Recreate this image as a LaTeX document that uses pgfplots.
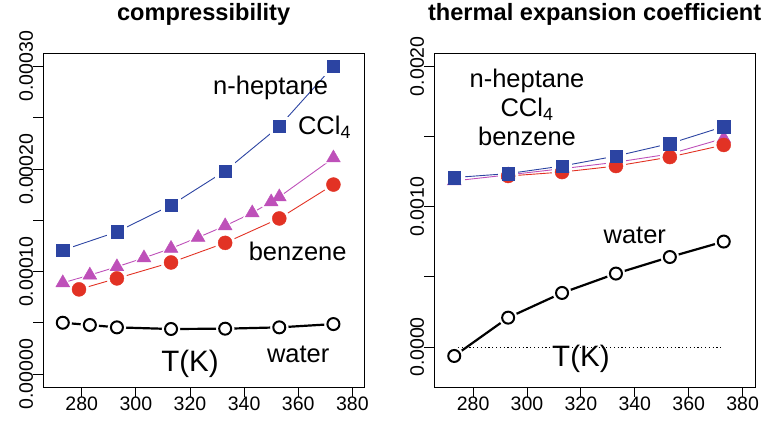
\documentclass[border=0pt]{standalone}
\usepackage{fontspec}
\setmainfont{Liberation Sans}
\usepackage{pgfplots}
\pgfplotsset{compat=1.18}
\usepackage{pgfplotstable}

\definecolor{hblue}{RGB}{44,68,162}
\definecolor{cmag}{RGB}{190,80,185}
\definecolor{bred}{RGB}{226,50,36}

% compressibility
\pgfplotstableread{
T v
273 1.209e-4
293 1.387e-4
313 1.647e-4
333 1.981e-4
353 2.415e-4
373 3.002e-4
}\hepL
\pgfplotstableread{
T v
273 0.891e-4
283 0.966e-4
293 1.047e-4
303 1.134e-4
313 1.226e-4
323 1.333e-4
333 1.446e-4
343 1.572e-4
350 1.679e-4
353 1.728e-4
373 2.107e-4
}\cclL
\pgfplotstableread{
T v
279 0.827e-4
293 0.934e-4
313 1.089e-4
333 1.280e-4
353 1.518e-4
373 1.848e-4
}\benL
\pgfplotstableread{
T v
273 0.502e-4
283 0.480e-4
293 0.457e-4
313 0.441e-4
333 0.444e-4
353 0.457e-4
373 0.489e-4
}\watL
% thermal expansion
\pgfplotstableread{
T v
273 1.207e-3
293 1.235e-3
313 1.289e-3
333 1.360e-3
353 1.449e-3
373 1.570e-3
}\hepR
\pgfplotstableread{
T v
273 1.183e-3
293 1.226e-3
313 1.270e-3
333 1.316e-3
353 1.375e-3
373 1.486e-3
}\cclR
\pgfplotstableread{
T v
293 1.218e-3
313 1.246e-3
333 1.289e-3
353 1.353e-3
373 1.439e-3
}\benR
\pgfplotstableread{
T v
273 -0.064e-3
293 0.209e-3
313 0.385e-3
333 0.523e-3
353 0.641e-3
373 0.751e-3
}\watR

\pgfplotsset{rstyle/.style={
  scale only axis, width=320.7pt, height=333.4pt,
  anchor=south west,
  axis line style={line width=0.9pt},
  tick align=outside, xtick pos=left, ytick pos=left,
  major tick length=10pt, tick style={line width=0.9pt, black},
  xmin=265.8, xmax=384.3,
  xtick={280,300,320,340,360,380},
  xticklabels={280,300,320,340,360,380},
  tick label style={font=\fontsize{19.5}{20}\selectfont},
  xticklabel style={anchor=north, inner sep=0pt},
  yticklabel style={rotate=90, anchor=south, inner sep=0pt},
  scaled y ticks=false,
  title style={font=\bfseries\fontsize{23.6}{26}\selectfont, at={(0.5,1)}, anchor=base, yshift=26.6pt},
  clip=false,
  axis on top=false,
}}
\tikzset{lab/.style={anchor=base, font=\fontsize{25.5}{28}\selectfont, inner sep=0pt}}

\begin{document}
\begin{tikzpicture}
\useasboundingbox (0,0) rectangle (763pt,425pt);

\begin{axis}[rstyle, at={(43.3pt,38pt)},
  title={compressibility},
  ymin=-0.0000124, ymax=0.0003124,
  ytick={0,0.00005,0.0001,0.00015,0.0002,0.00025,0.0003},
  yticklabels={0.00000,,0.00010,,0.00020,,0.00030},
]
% lines
\addplot[hblue, line width=0.9pt, no marks] table[x=T,y=v] {\hepL};
\addplot[cmag, line width=0.9pt, no marks] table[x=T,y=v] {\cclL};
\addplot[bred, line width=0.9pt, no marks] table[x=T,y=v] {\benL};
\addplot[black, line width=2.2pt, no marks] table[x=T,y=v] {\watL};
% gaps
\addplot[only marks, mark=square*, mark size=9.5pt, white] table[x=T,y=v] {\hepL};
\addplot[only marks, mark=triangle*, mark size=10.5pt, white] table[x=T,y=v] {\cclL};
\addplot[only marks, mark=*, mark size=10pt, white] table[x=T,y=v] {\benL};
\addplot[only marks, mark=*, mark size=9pt, white] table[x=T,y=v] {\watL};
% markers
\addplot[only marks, mark=triangle*, mark size=8pt, cmag] table[x=T,y=v] {\cclL};
\addplot[only marks, mark=*, mark size=7pt, bred] table[x=T,y=v] {\benL};
\addplot[only marks, mark=square*, mark size=6.2pt, hblue] table[x=T,y=v] {\hepL};
\addplot[only marks, mark=*, mark size=6pt, mark options={draw=black, fill=white, line width=2pt}] table[x=T,y=v] {\watL};
% labels
\node[lab] at (axis cs:349.8,2.727e-4) {n-heptane};
\node[lab] at (axis cs:369.7,2.335e-4) {CCl\textsubscript{4}};
\node[lab] at (axis cs:359.8,1.105e-4) {benzene};
\node[lab] at (axis cs:360,0.113e-4) {water};
\node[lab, font=\fontsize{29.5}{32}\selectfont] at (axis cs:320,0.025e-4) {T(K)};
\end{axis}

\begin{axis}[rstyle, at={(434.3pt,38pt)},
  title={thermal expansion coefficient},
  xmin=265.6, xmax=384.6,
  ymin=-0.000285, ymax=0.00209,
  ytick={0,0.0005,0.001,0.0015,0.002},
  yticklabels={0.0000,,0.0010,,0.0020},
]
\addplot[black, line width=0.8pt, dash pattern=on 1.2pt off 2.6pt, no marks] coordinates {(273,0) (372,0)};
% lines
\addplot[hblue, line width=0.9pt, no marks] table[x=T,y=v] {\hepR};
\addplot[cmag, line width=0.9pt, no marks] table[x=T,y=v] {\cclR};
\addplot[bred, line width=0.9pt, no marks] table[x=T,y=v] {\benR};
\addplot[black, line width=2.2pt, no marks] table[x=T,y=v] {\watR};
% gaps
\addplot[only marks, mark=square*, mark size=9.5pt, white] table[x=T,y=v] {\hepR};
\addplot[only marks, mark=triangle*, mark size=10.5pt, white] table[x=T,y=v] {\cclR};
\addplot[only marks, mark=*, mark size=10pt, white] table[x=T,y=v] {\benR};
\addplot[only marks, mark=*, mark size=9pt, white] table[x=T,y=v] {\watR};
% markers
\addplot[only marks, mark=triangle*, mark size=8pt, cmag] table[x=T,y=v] {\cclR};
\addplot[only marks, mark=*, mark size=7pt, bred] table[x=T,y=v] {\benR};
\addplot[only marks, mark=square*, mark size=6.2pt, hblue] table[x=T,y=v] {\hepR};
\addplot[only marks, mark=*, mark size=6pt, mark options={draw=black, fill=white, line width=2pt}] table[x=T,y=v] {\watR};
% labels
\node[lab] at (axis cs:300,1.848e-3) {n-heptane};
\node[lab] at (axis cs:300,1.643e-3) {CCl\textsubscript{4}};
\node[lab] at (axis cs:300,1.432e-3) {benzene};
\node[lab] at (axis cs:340,0.736e-3) {water};
\node[lab, font=\fontsize{29.5}{32}\selectfont] at (axis cs:320,-0.142e-3) {T(K)};
\end{axis}
\end{tikzpicture}
\end{document}
